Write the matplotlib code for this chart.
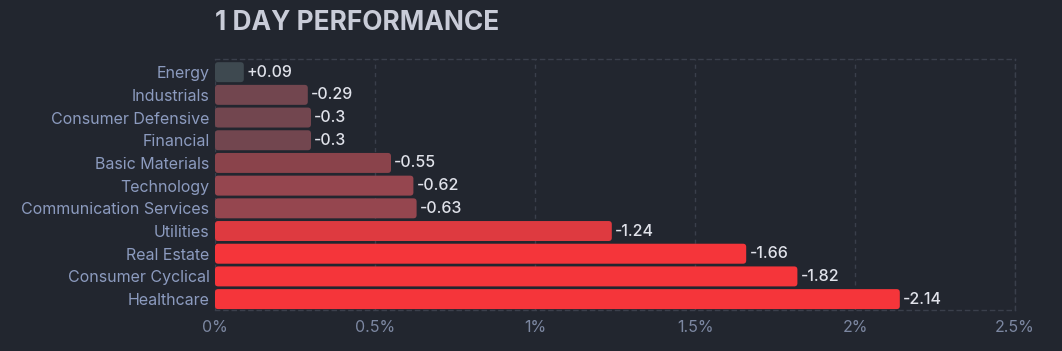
import matplotlib
matplotlib.use("Agg")
import matplotlib.pyplot as plt
from matplotlib.patches import FancyBboxPatch

sectors = ["Energy", "Industrials", "Consumer Defensive", "Financial", "Basic Materials",
           "Technology", "Communication Services", "Utilities", "Real Estate",
           "Consumer Cyclical", "Healthcare"]
changes = [0.09, -0.29, -0.30, -0.30, -0.55, -0.62, -0.63, -1.24, -1.66, -1.82, -2.14]
value_labels = ["+0.09", "-0.29", "-0.3", "-0.3", "-0.55", "-0.62", "-0.63", "-1.24", "-1.66", "-1.82", "-2.14"]
xticks = [0, 0.5, 1, 1.5, 2, 2.5]
xtick_labels = ["0%", "0.5%", "1%", "1.5%", "2%", "2.5%"]

colors = ["#3e4950", "#72464f", "#72464f", "#72464f", "#8a434b", "#95464f", "#95464f",
          "#de3a40", "#f5353a", "#f5353a", "#f5353a"]

BG = "#22262f"
GRID = "#3a3f4b"

plt.rcParams['font.family'] = ['Inter', 'DejaVu Sans']

fig = plt.figure(figsize=(10.62, 3.51), dpi=100, facecolor=BG)
ax = fig.add_axes([215/1062, 1 - 310/351, 800/1062, 251/351], facecolor=BG)

mags = [abs(v) for v in changes]
ypos = list(range(len(sectors)))
bars = ax.barh(ypos, mags, height=0.88, color=colors, zorder=2)

# rounded corners
for b, c in zip(bars, colors):
    x, y, w, h = b.get_x(), b.get_y(), b.get_width(), b.get_height()
    b.set_visible(False)
    p = FancyBboxPatch((x, y), w, h, boxstyle="round,pad=0,rounding_size=0.01",
                       facecolor=c, edgecolor="none", zorder=2)
    p.set_mutation_aspect((11/251) / (2.5/800))
    ax.add_patch(p)

for yv, m, lab in zip(ypos, mags, value_labels):
    ax.text(m + 0.01, yv, lab, va="center", ha="left", color="#e0e2ea", fontsize=11.5,
            fontweight="medium", zorder=3)

ax.set_xlim(0, 2.5)
ax.set_ylim(len(sectors) - 0.52, -0.58)
ax.set_yticks(ypos)
ax.set_yticklabels(sectors)
ax.set_xticks(xticks)
ax.set_xticklabels(xtick_labels)
ax.tick_params(axis="y", length=0, pad=4, colors="#8c9bbf", labelsize=11.5)
ax.tick_params(axis="x", length=0, pad=7, colors="#7c87a1", labelsize=11.5)

ax.grid(axis="x", color=GRID, linestyle=(0, (3, 3)), linewidth=1, zorder=0)
ax.spines["left"].set_visible(False)
for s in ["top", "bottom", "right"]:
    ax.spines[s].set_color(GRID)
    ax.spines[s].set_linestyle((0, (3, 3)))
    ax.spines[s].set_linewidth(1)

fig.text(215/1062, 1 - 23/351, "1 DAY PERFORMANCE", color="#c9ccd8", fontsize=18.9,
         fontweight="bold", ha="left", va="center")

fig.savefig("out.png", dpi=100, facecolor=BG)
